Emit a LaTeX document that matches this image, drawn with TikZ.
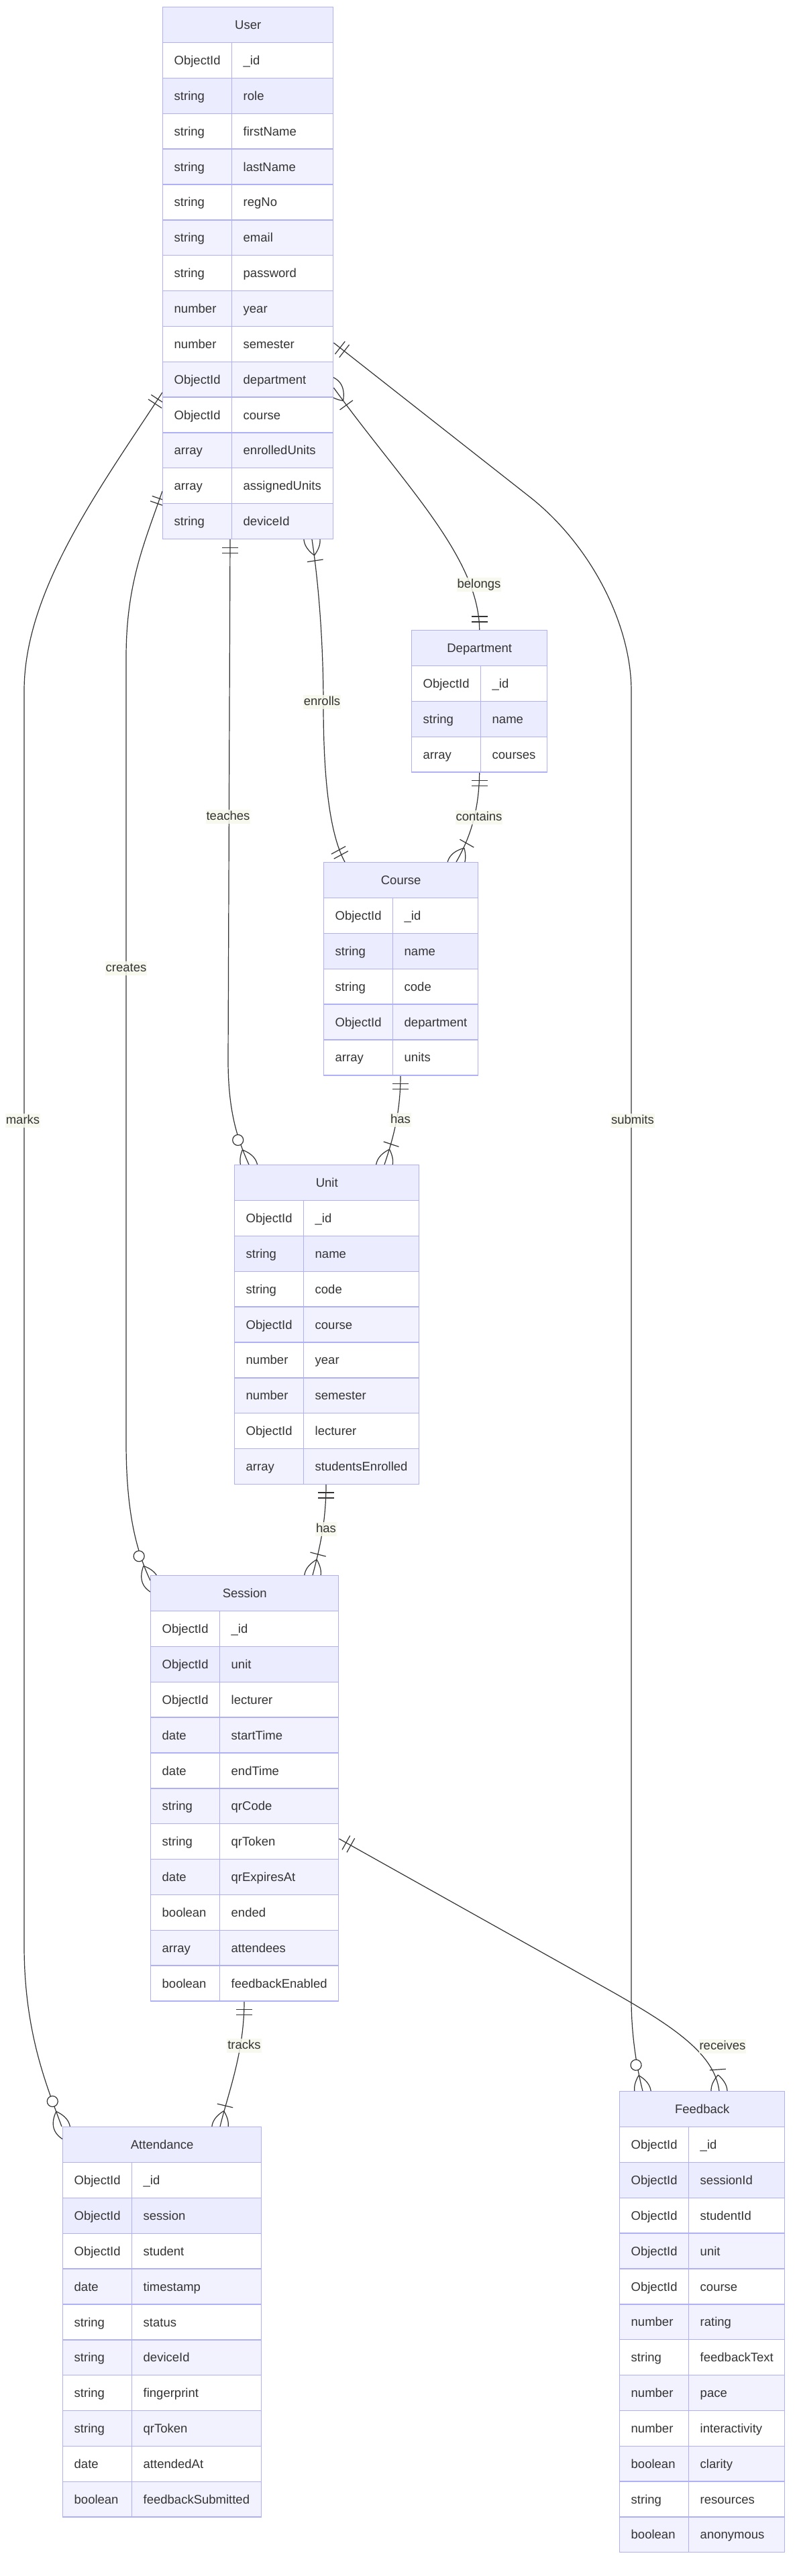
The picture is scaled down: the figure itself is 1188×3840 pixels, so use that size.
\documentclass[tikz,border=0pt]{standalone}
\usepackage{fontspec}
\setmainfont{Liberation Sans}
\usetikzlibrary{calc}
\pgfdeclarelayer{bg}
\pgfsetlayers{bg,main}
\definecolor{hdrcol}{HTML}{ECECFF}
\definecolor{rowB}{HTML}{ECECFF}
\definecolor{rowC}{HTML}{F2F2FF}
\definecolor{bordercol}{HTML}{B0B0F6}
\definecolor{linecol}{HTML}{333333}
\definecolor{txtcol}{HTML}{333333}
\definecolor{lblbg}{HTML}{F6F8EC}
\def\rh{52.85}
\tikzset{
  erfont/.style={font=\fontsize{18.5}{22}\selectfont, text=txtcol, text height=17pt, text depth=3.8pt},
  hdr/.style={erfont, draw=bordercol, line width=1.4pt, fill=hdrcol, minimum height=\rh pt, inner sep=0pt},
  cell/.style={erfont, draw=bordercol, line width=1.4pt, minimum height=\rh pt, inner ysep=0pt, inner xsep=17pt, align=left},
  entbox/.style={draw=bordercol, line width=1.4pt, fill=white, inner sep=0pt},
  rel/.style={draw=linecol, line width=1.2pt},
  lbl/.style={erfont, text height=15pt, text depth=4pt, fill=lblbg, fill opacity=0.85, text opacity=1, inner xsep=1pt, inner ysep=1pt},
  pics/mone/.style={code={\draw[rel] (12,-12) -- (12,12) (20,-12) -- (20,12);}},
  pics/mmany/.style={code={\draw[rel] (24,0) .. controls (8,16) and (-8,16) .. (-24,0)
      (24,0) .. controls (8,-16) and (-8,-16) .. (-24,0) (32,-12) -- (32,12);}},
  pics/mzmany/.style={code={\draw[rel] (24,0) .. controls (8,16) and (-8,16) .. (-24,0)
      (24,0) .. controls (8,-16) and (-8,-16) .. (-24,0);
      \draw[rel, fill=white] (40,0) circle[radius=8pt];}},
}
% name, x, y, width, nrows, title, rows
\newcommand\erEntity[7]{%
  \pgfmathsetmacro\entH{(#5+1)*\rh}%
  \pgfmathsetmacro\nw{#4-103-34}%
  \node[entbox, minimum width=#4pt, minimum height=\entH pt, anchor=north west] (#1) at (#2,#3) {};
  \node[hdr, minimum width=#4pt, anchor=north west] (#1-h) at (#1.north west) {#6};
  \foreach \ty/\nm [count=\i] in {#7} {
    \pgfmathsetmacro\rowy{\i*\rh}
    \ifnum\i=2 \def\rf{rowB}\else\ifodd\i \def\rf{white}\else \def\rf{rowC}\fi\fi
    \node[cell, fill=\rf, text width=69pt, anchor=north west] (#1-t\i) at ($(#1.north west)+(0,\rowy)$) {\ty};
    \node[cell, fill=\rf, text width=\nw pt, anchor=north west] (#1-n\i) at ($(#1.north west)+(103,\rowy)$) {\nm};
  }
}
\begin{document}
\begin{tikzpicture}[x=1pt, y=-1pt]
\useasboundingbox (0,0) rectangle (1188,3840);
\begin{pgfonlayer}{bg}
\fill[white] (0,0) rectangle (1188,3840);
\end{pgfonlayer}

\erEntity{user}{242}{10}{254}{14}{User}{ObjectId/\_id, string/role, string/firstName, string/lastName, string/regNo, string/email, string/password, number/year, number/semester, ObjectId/department, ObjectId/course, array/enrolledUnits, array/assignedUnits, string/deviceId}
\erEntity{dept}{613}{939}{202}{3}{Department}{ObjectId/\_id, string/name, array/courses}
\erEntity{course}{482}{1285}{230}{5}{Course}{ObjectId/\_id, string/name, string/code, ObjectId/department, array/units}
\erEntity{unit}{349}{1736}{275}{8}{Unit}{ObjectId/\_id, string/name, string/code, ObjectId/course, number/year, number/semester, ObjectId/lecturer, array/studentsEnrolled}
\erEntity{session}{224}{2348}{280}{11}{Session}{ObjectId/\_id, ObjectId/unit, ObjectId/lecturer, date/startTime, date/endTime, string/qrCode, string/qrToken, date/qrExpiresAt, boolean/ended, array/attendees, boolean/feedbackEnabled}
\erEntity{att}{93}{3170}{296}{10}{Attendance}{ObjectId/\_id, ObjectId/session, ObjectId/student, date/timestamp, string/status, string/deviceId, string/fingerprint, string/qrToken, date/attendedAt, boolean/feedbackSubmitted}
\erEntity{fb}{923}{3117}{246}{12}{Feedback}{ObjectId/\_id, ObjectId/sessionId, ObjectId/studentId, ObjectId/unit, ObjectId/course, number/rating, string/feedbackText, number/pace, number/interactivity, boolean/clarity, string/resources, boolean/anonymous}

% connector end points
\coordinate (u-sub) at ($(user.north east)+(0,501)$);
\coordinate (u-bel) at ($(user.north east)+(0,568)$);
\coordinate (u-mark) at ($(user.north west)+(0,575)$);
\coordinate (u-cre) at ($(user.north west)+(0,722)$);
\coordinate (u-tea) at ($(user.south west)+(101,0)$);
\coordinate (u-enr) at ($(user.south west)+(223,0)$);
\coordinate (d-top) at (dept.north);
\coordinate (d-bot) at (dept.south);
\coordinate (c-enr) at ($(course.north west)+(32,0)$);
\coordinate (c-con) at ($(course.north west)+(198,0)$);
\coordinate (c-bot) at ($(course.south west)+(115,0)$);
\coordinate (n-tea) at ($(unit.north west)+(22,0)$);
\coordinate (n-has) at ($(unit.north west)+(224,0)$);
\coordinate (n-bot) at ($(unit.south west)+(137,0)$);
\coordinate (s-cre) at ($(session.north west)+(0,8)$);
\coordinate (s-has) at ($(session.north west)+(242,0)$);
\coordinate (s-bot) at ($(session.south west)+(140,0)$);
\coordinate (s-rec) at ($(session.north east)+(0,393)$);
\coordinate (a-mark) at ($(att.north west)+(-1,0)$);
\coordinate (a-tra) at ($(att.north west)+(235,0)$);
\coordinate (f-sub) at ($(fb.north west)+(35,0)$);
\coordinate (f-rec) at ($(fb.north west)+(149,0)$);

\begin{pgfonlayer}{bg}
% belongs
\draw[rel] (u-bel) .. controls (600,720) and (714,830) .. (d-top);
% submits
\draw[rel] (u-sub) -- (790,741) .. controls (880,812) and (941,930) .. (941,1030) -- (941,2980) .. controls (941,3030) and (948,3078) .. (f-sub);
% marks
\draw[rel] (u-mark) .. controls (150,726) and (36,880) .. (36,1030) -- (36,2900) .. controls (36,3030) and (70,3110) .. (a-mark);
% creates
\draw[rel] (u-cre) .. controls (215,810) and (188,870) .. (188,980) -- (188,2150) .. controls (188,2260) and (205,2315) .. (s-cre);
% teaches
\draw[rel] (u-tea) -- (340,1580) .. controls (340,1660) and (355,1700) .. (n-tea);
% enrolls
\draw[rel] (u-enr) .. controls (475,870) and (482,960) .. (482,1050) .. controls (482,1180) and (495,1250) .. (c-enr);
% contains
\draw[rel] (d-bot) .. controls (714,1210) and (700,1250) .. (c-con);
% has (course-unit)
\draw[rel] (c-bot) .. controls (597,1660) and (585,1700) .. (n-has);
% has (unit-session)
\draw[rel] (n-bot) .. controls (486,2270) and (476,2310) .. (s-has);
% tracks
\draw[rel] (s-bot) .. controls (364,3060) and (340,3120) .. (a-tra);
% receives
\draw[rel] (s-rec) -- (900,2962) .. controls (1000,3018) and (1065,3060) .. (f-rec);

% markers
\pic[rotate=-53.9] at (u-bel) {mmany};
\pic[rotate=90] at (d-top) {mone};
\pic[rotate=-38] at (u-sub) {mone};
\pic[rotate=104.4] at (f-sub) {mzmany};
\pic[rotate=-123.1] at (u-mark) {mone};
\pic[rotate=110.1] at (a-mark) {mzmany};
\pic[rotate=-109.1] at (u-cre) {mone};
\pic[rotate=114.9] at (s-cre) {mzmany};
\pic[rotate=-90] at (u-tea) {mone};
\pic[rotate=114] at (n-tea) {mzmany};
\pic[rotate=-81.5] at (u-enr) {mmany};
\pic[rotate=118.5] at (c-enr) {mone};
\pic[rotate=-90] at (d-bot) {mone};
\pic[rotate=60.3] at (c-con) {mmany};
\pic[rotate=-90] at (c-bot) {mone};
\pic[rotate=71.6] at (n-has) {mmany};
\pic[rotate=-90] at (n-bot) {mone};
\pic[rotate=75.3] at (s-has) {mmany};
\pic[rotate=-90] at (s-bot) {mone};
\pic[rotate=76.5] at (a-tra) {mmany};
\pic[rotate=-29.2] at (s-rec) {mone};
\pic[rotate=94] at (f-rec) {mmany};
\end{pgfonlayer}

% labels
\node[lbl] (l-bel) at (714,871) {belongs};
\node[lbl] (l-con) at (714,1218) {contains};
\node[lbl] (l-enr) at (480,1046) {enrolls};
\node[lbl] (l-tea) at (340,1217) {teaches};
\node[lbl] (l-cre) at (188,1443) {creates};
\node[lbl] (l-mar) at (34,1670) {marks};
\node[lbl] (l-sub) at (943,1670) {submits};
\node[lbl] (l-has1) at (597,1669) {has};
\node[lbl] (l-has2) at (486,2279) {has};
\node[lbl] (l-tra) at (364,3049) {tracks};
\node[lbl] (l-rec) at (1077,3050) {receives};
\end{tikzpicture}
\end{document}
